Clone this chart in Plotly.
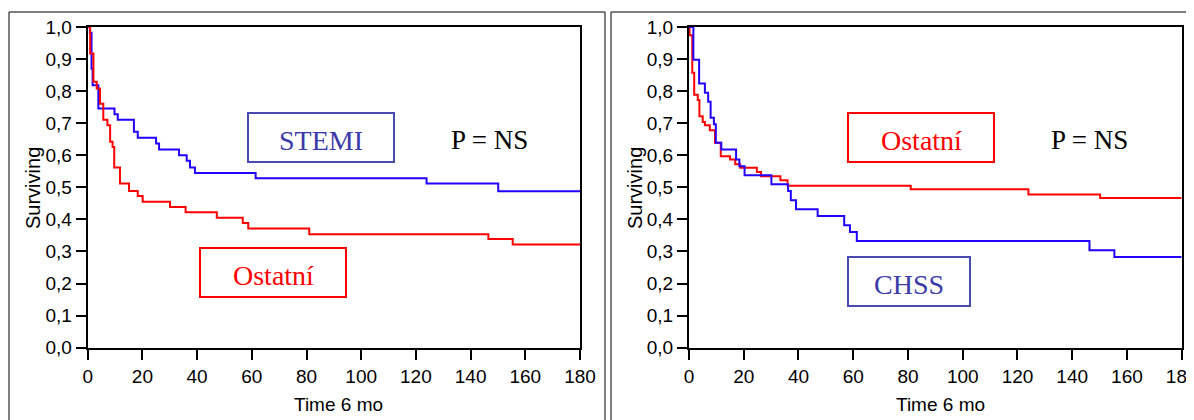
import plotly.graph_objects as go

# left panel: STEMI vs Ostatni
stemi_t = [0, 0.8, 1.4, 1.8, 3.9, 9.8, 11.0, 16.9, 18.3, 25.0, 26.1, 33.4, 36.2, 37.4, 39.2, 61.4, 123.9, 150.1, 180]
stemi_s = [1.0, 0.982, 0.870, 0.818, 0.746, 0.728, 0.711, 0.673, 0.655, 0.637, 0.618, 0.600, 0.583, 0.562, 0.545, 0.528, 0.512, 0.488, 0.488]

ost1_t = [0, 0.9, 2.1, 3.3, 4.5, 5.7, 7.2, 8.2, 9.1, 9.7, 11.8, 15.1, 18.3, 20.1, 30.1, 35.8, 47.2, 56.7, 58.7, 81.0, 146.5, 155.4, 180]
ost1_s = [1.0, 0.917, 0.829, 0.808, 0.761, 0.711, 0.694, 0.642, 0.626, 0.562, 0.512, 0.489, 0.473, 0.455, 0.439, 0.422, 0.405, 0.389, 0.372, 0.354, 0.339, 0.322, 0.322]

# right panel: CHSS vs Ostatni
chss_t = [0, 1.6, 3.7, 5.8, 7.0, 7.9, 9.1, 9.8, 11.8, 17.2, 18.4, 20.3, 30.1, 36.2, 37.2, 39.1, 47.0, 56.7, 58.8, 61.3, 146.3, 155.4, 180]
chss_s = [1.0, 0.898, 0.824, 0.795, 0.767, 0.717, 0.697, 0.639, 0.618, 0.587, 0.566, 0.538, 0.510, 0.489, 0.460, 0.432, 0.411, 0.382, 0.361, 0.333, 0.304, 0.283, 0.283]

ost2_t = [0, 0.2, 1.2, 1.9, 3.2, 3.8, 5.0, 5.8, 7.6, 9.5, 11.6, 15.0, 16.9, 18.7, 24.8, 26.3, 33.4, 36.0, 81.0, 124.0, 150.2, 180]
ost2_s = [1.0, 0.974, 0.857, 0.789, 0.772, 0.722, 0.704, 0.694, 0.678, 0.639, 0.597, 0.587, 0.572, 0.561, 0.548, 0.535, 0.522, 0.505, 0.494, 0.478, 0.467, 0.467]

x_ticks = list(range(0, 181, 20))
y_ticks = [i / 10 for i in range(11)]

# the page body has an 8px margin, so the figure is 8px smaller and positions are shifted
OFF = 8
W, H = 1194 - OFF, 420 - OFF
BLUE = "#2200ff"
RED = "#ff0000"
NAVY = "#3a3aa8"


def px(x):
    return (x - OFF) / W


def py(y):
    return 1 - (y - OFF) / H


fig = go.Figure()

fig.add_trace(go.Scatter(x=stemi_t, y=stemi_s, mode="lines", line=dict(color=BLUE, width=2, shape="hv"),
                         xaxis="x", yaxis="y", name="STEMI"))
fig.add_trace(go.Scatter(x=ost1_t, y=ost1_s, mode="lines", line=dict(color=RED, width=2, shape="hv"),
                         xaxis="x", yaxis="y", name="Ostatní"))
fig.add_trace(go.Scatter(x=ost2_t, y=ost2_s, mode="lines", line=dict(color=RED, width=2, shape="hv"),
                         xaxis="x2", yaxis="y2", name="Ostatní"))
fig.add_trace(go.Scatter(x=chss_t, y=chss_s, mode="lines", line=dict(color=BLUE, width=2, shape="hv"),
                         xaxis="x2", yaxis="y2", name="CHSS"))

tick_font = dict(family="Liberation Sans, Arial", size=19, color="black")
xax = dict(range=[0, 180], tickvals=x_ticks, ticks="outside", ticklen=10, tickwidth=2, tickcolor="black",
           showline=True, linewidth=2, linecolor="black", mirror=True, showgrid=False,
           zeroline=False, tickfont=tick_font, automargin=False, ticklabeloverflow="allow")
yax = dict(range=[0, 1], tickvals=y_ticks, tickformat=".1f", ticks="outside", ticklen=10, tickwidth=2,
           tickcolor="black", showline=True, linewidth=2, linecolor="black", mirror=True, showgrid=False,
           zeroline=False, tickfont=tick_font, automargin=False)

fig.update_layout(
    template="none",
    width=W, height=H,
    margin=dict(l=0, r=0, t=0, b=0, autoexpand=False),
    paper_bgcolor="white", plot_bgcolor="white",
    font=dict(family="Liberation Sans, Arial", color="black"),
    separators=", ",
    showlegend=False,
    xaxis=dict(xax, domain=[px(87.7), px(580)], anchor="y"),
    yaxis=dict(yax, domain=[py(347.7), py(27)], anchor="x"),
    xaxis2=dict(xax, domain=[px(689), px(1181.7)], anchor="y2"),
    yaxis2=dict(yax, domain=[py(347.7), py(27)], anchor="x2"),
)

# panel frames
shapes = [
    dict(type="rect", xref="paper", yref="paper", x0=px(9), x1=px(605), y0=-0.05, y1=py(12),
         line=dict(color="black", width=1)),
    dict(type="rect", xref="paper", yref="paper", x0=px(611), x1=1.05, y0=-0.05, y1=py(12),
         line=dict(color="black", width=1)),
]

# label boxes (x0, x1, y0, y1 in pixels, colour)
boxes = [
    (248, 394, 113, 162, "#4a4ab0"),
    (200, 346, 248, 297, RED),
    (848, 994, 113, 162, RED),
    (848, 970, 257, 306, "#4a4ab0"),
]
for x0, x1, y0, y1, c in boxes:
    shapes.append(dict(type="rect", xref="paper", yref="paper", x0=px(x0), x1=px(x1), y0=py(y1), y1=py(y0),
                       line=dict(color=c, width=2)))
fig.update_layout(shapes=shapes)

serif = "Liberation Serif, Times New Roman"
labels = [
    ("STEMI", 321, 140, NAVY, 28),
    ("P = NS", 489, 140, "black", 27),
    ("Ostatní", 273, 275, RED, 28),
    ("Ostatní", 921, 140, RED, 28),
    ("P = NS", 1089, 140, "black", 27),
    ("CHSS", 909, 284, NAVY, 28),
]
for txt, x, y, c, s in labels:
    fig.add_annotation(text=txt, xref="paper", yref="paper", x=px(x), y=py(y), showarrow=False,
                       xanchor="center", yanchor="middle", font=dict(family=serif, size=s, color=c))

# axis titles
for cx in (338, 940):
    fig.add_annotation(text="Time 6 mo", xref="paper", yref="paper", x=px(cx), y=py(404), showarrow=False,
                       xanchor="center", yanchor="middle", font=dict(family="Liberation Sans, Arial", size=19))
for cx in (33, 635):
    fig.add_annotation(text="Surviving", xref="paper", yref="paper", x=px(cx), y=py(188), showarrow=False,
                       textangle=-90, xanchor="center", yanchor="middle",
                       font=dict(family="Liberation Sans, Arial", size=20))

fig.write_html("out.html")
